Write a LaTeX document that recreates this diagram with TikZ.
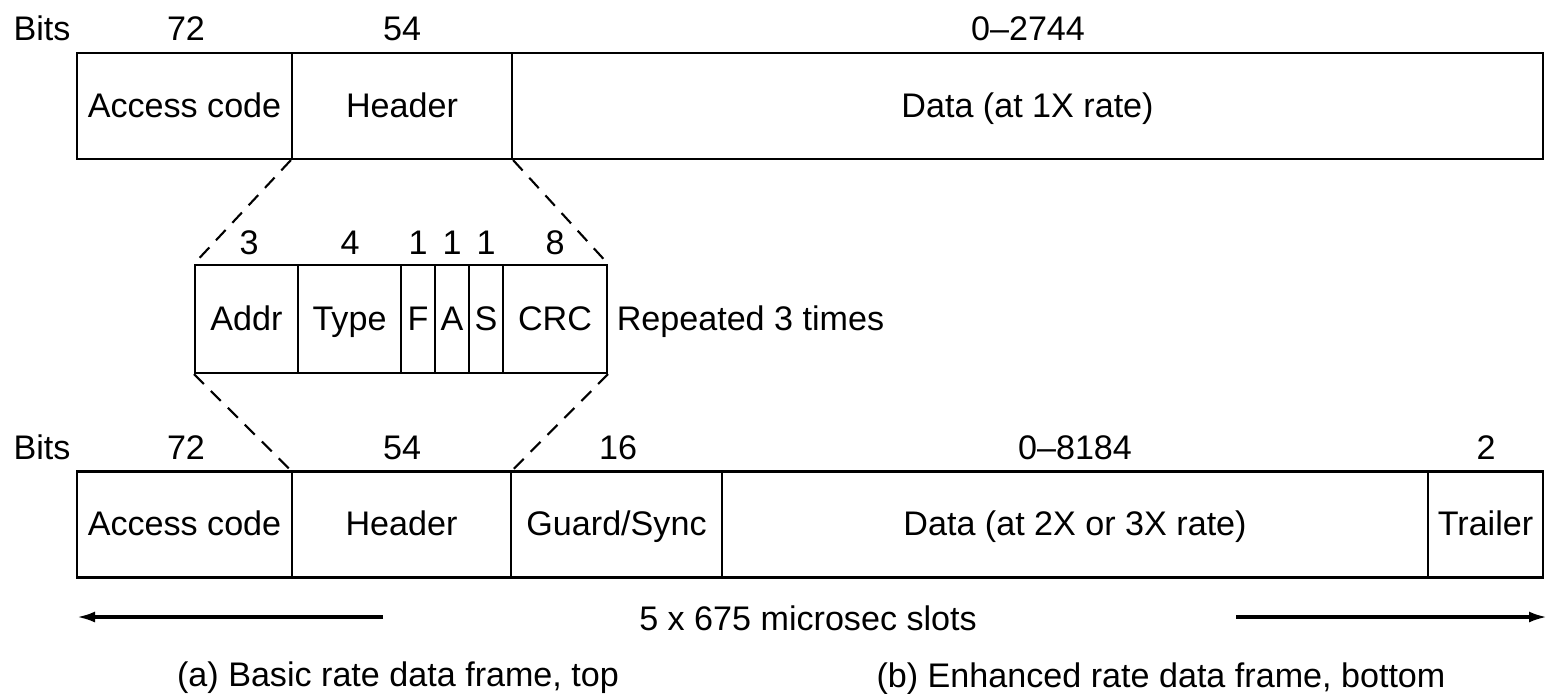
\documentclass[tikz,border=0pt]{standalone}
\usepackage{fontspec}
\setmainfont{Liberation Sans}
\usetikzlibrary{arrows.meta,positioning}

\begin{document}
\begin{tikzpicture}[
            x = .01cm, y = -.01cm,
            every node/.style={font=\fontsize{9.7}{11}\selectfont, inner sep=0pt, text height=1.65ex, text depth=.45ex},
            field/.style={draw, line width=.6pt, minimum height=1.06cm},
            cut/.style={line width=.6pt, dash pattern=on 4pt off 2.8pt},
            span/.style={line width=.9pt, -{Latex[length=.18cm, width=.11cm]}},
            ]
        \useasboundingbox (0, 0) rectangle (1549, 693);

        % basic rate frame
        \node (bits1) at (42, 29) {Bits};
        \node (n72a) at (186, 29) {72};
        \node (n54a) at (402, 29) {54};
        \node (n2744) at (1028, 29) {0--2744};
        \node[field, minimum width=2.15cm] (acc1) at (184.5, 106) {Access code};
        \node[field, minimum width=2.20cm] (hdr1) at (402, 106) {Header};
        \node[field, minimum width=10.31cm] (dat1) at (1027.5, 106) {Data (at 1X rate)};

        % header bits
        \node (n3) at (249, 243) {3};
        \node (n4) at (350, 243) {4};
        \node (n1f) at (418, 243) {1};
        \node (n1a) at (452, 243) {1};
        \node (n1s) at (486, 243) {1};
        \node (n8) at (555, 243) {8};
        \node[field, minimum height=1.08cm, minimum width=1.03cm] (addr) at (246.5, 319) {Addr};
        \node[field, minimum height=1.08cm, minimum width=1.03cm] (type) at (349.5, 319) {Type};
        \node[field, minimum height=1.08cm, minimum width=.34cm] (f) at (418, 319) {F};
        \node[field, minimum height=1.08cm, minimum width=.34cm] (a) at (452, 319) {A};
        \node[field, minimum height=1.08cm, minimum width=.34cm] (s) at (486, 319) {S};
        \node[field, minimum height=1.08cm, minimum width=1.04cm] (crc) at (555, 319) {CRC};
        \node[right=.08cm of crc] (rep) {Repeated 3 times};

        % enhanced rate frame
        \node (bits2) at (42, 448) {Bits};
        \node (n72b) at (186, 448) {72};
        \node (n54b) at (402, 448) {54};
        \node (n16) at (618, 448) {16};
        \node (n8184) at (1075, 448) {0--8184};
        \node (n2) at (1486, 448) {2};
        \node[field, minimum width=2.15cm] (acc2) at (184.5, 524.5) {Access code};
        \node[field, minimum width=2.19cm] (hdr2) at (401.5, 524.5) {Header};
        \node[field, minimum width=2.11cm] (grd) at (616.5, 524.5) {Guard/Sync};
        \node[field, minimum width=7.06cm] (dat2) at (1075, 524.5) {Data (at 2X or 3X rate)};
        \node[field, minimum width=1.15cm] (trl) at (1485.5, 524.5) {Trailer};

        \draw[cut] (hdr1.south west) -- (addr.north west);
        \draw[cut] (hdr1.south east) -- (crc.north east);
        \draw[cut] (addr.south west) -- (hdr2.north west);
        \draw[cut] (crc.south east) -- (hdr2.north east);

        % slots
        \node (slots) at (808, 619) {5 x 675 microsec slots};
        \coordinate (la) at (383, 617);
        \coordinate (lb) at (77, 617);
        \coordinate (ra) at (1236, 617);
        \coordinate (rb) at (1547, 617);
        \draw[span] (la) -- (lb);
        \draw[span] (ra) -- (rb);

        \node (capa) at (398, 675) {(a) Basic rate data frame, top};
        \node (capb) at (1161, 676) {(b) Enhanced rate data frame, bottom};
    \end{tikzpicture}
\end{document}
